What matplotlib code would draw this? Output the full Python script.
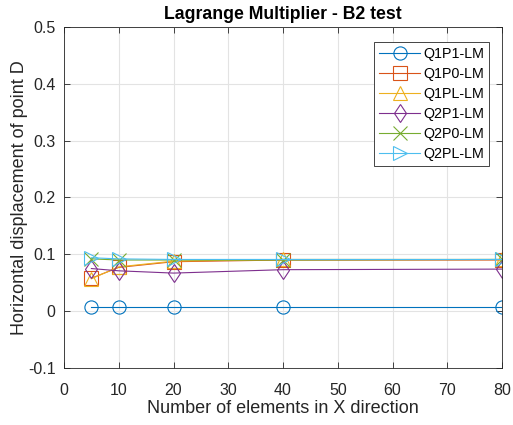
import numpy as np
import matplotlib
matplotlib.use('Agg')
import matplotlib.pyplot as plt

plt.rcParams['font.family'] = ['Liberation Sans', 'DejaVu Sans']

# number of elements in X direction
n_elem = [5, 10, 20, 40, 80]

# horizontal displacement of point D
q1p1 = [0.0077, 0.0077, 0.0077, 0.0077, 0.0077]
q1p0 = [0.058, 0.077, 0.087, 0.090, 0.090]
q1pl = [0.057, 0.078, 0.088, 0.091, 0.091]
q2p1 = [0.075, 0.071, 0.067, 0.073, 0.074]
q2p0 = [0.092, 0.090, 0.090, 0.090, 0.091]
q2pl = [0.094, 0.092, 0.091, 0.091, 0.091]

labels = ['Q1P1-LM', 'Q1P0-LM', 'Q1PL-LM', 'Q2P1-LM', 'Q2P0-LM', 'Q2PL-LM']
series = [q1p1, q1p0, q1pl, q2p1, q2p0, q2pl]
markers = ['o', 's', '^', 'd', 'x', '>']
colors = ['#0072BD', '#D95319', '#EDB120', '#7E2F8E', '#77AC30', '#4DBEEE']

fig = plt.figure(figsize=(5.13, 4.25), dpi=100)
ax = fig.add_axes([64/513, 1-368/425, (502-64)/513, (368-27)/425])

for s, m, c, l in zip(series, markers, colors, labels):
    ax.plot(n_elem, s, marker=m, color=c, label=l, lw=0.8, ms=9.5,
            mfc='none', mew=0.8)

ax.set_xlim(0, 80)
ax.set_ylim(-0.1, 0.5)
ax.set_xticks(np.arange(0, 81, 10))
ax.set_yticks([-0.1, 0, 0.1, 0.2, 0.3, 0.4, 0.5])
ax.set_yticklabels(['-0.1', '0', '0.1', '0.2', '0.3', '0.4', '0.5'])
ax.grid(True, color='#e3e3e3', lw=0.8)
ax.set_axisbelow(True)
ax.tick_params(direction='in', top=True, right=True, labelsize=11.5,
               colors='#262626', length=4, width=0.6)
ax.tick_params(axis='x', pad=11)
ax.tick_params(axis='y', pad=6)
for sp in ax.spines.values():
    sp.set_color('#262626')
    sp.set_linewidth(0.6)

ax.set_title('Lagrange Multiplier - B2 test', fontsize=12.7, fontweight='bold', pad=6)
ax.set_xlabel('Number of elements in X direction', fontsize=13, color='#262626', labelpad=1)
ax.set_ylabel('Horizontal displacement of point D', fontsize=13, color='#262626', labelpad=0)

leg = ax.legend(loc='upper right', fontsize=10.3, handlelength=2.9,
                borderaxespad=0, fancybox=False, framealpha=1, labelspacing=0.42,
                handletextpad=0.2, borderpad=0.35)
leg.set_bbox_to_anchor(((489-64)/438, 1 - (42-27)/341), transform=ax.transAxes)
leg.get_frame().set_edgecolor('#262626')
leg.get_frame().set_linewidth(0.6)

fig.savefig('out.png', dpi=100)
